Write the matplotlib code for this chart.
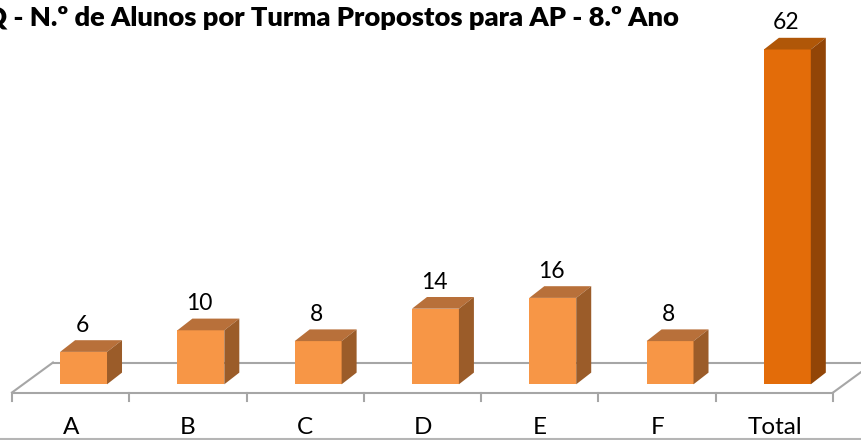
import matplotlib
matplotlib.use("Agg")
import matplotlib.pyplot as plt
from matplotlib.patches import Polygon

# ---- data ----
categories = ["A", "B", "C", "D", "E", "F", "Total"]
values = [6, 10, 8, 14, 16, 8, 62]
title = "Q - N.º de Alunos por Turma Propostos para AP - 8.º Ano"

# ---- style ----
FONT = ["Lato", "DejaVu Sans"]
front_c = "#F79646"
top_c = "#B8703A"
side_c = "#9B5C29"
tot_front = "#E36C09"
tot_top = "#B05708"
tot_side = "#924507"
grid_c = "#A6A6A6"

W, H = 862, 440
fig = plt.figure(figsize=(W / 100, H / 100), dpi=100)
ax = fig.add_axes([0, 0, 1, 1])
ax.axis("off")

# pixel geometry -> data scale
PX_PER_CAT = 117.3
PX_PER_VAL = 5.4
x_left_px = 12.0
y_zero_px = 384.3
ax.set_xlim(-0.5 - x_left_px / PX_PER_CAT, -0.5 + (W - x_left_px) / PX_PER_CAT)
ax.set_ylim((y_zero_px - H) / PX_PER_VAL, y_zero_px / PX_PER_VAL)

# bar geometry (data units)
bar_shift = 0.11
bar_w = 0.40
ddx = 15.0 / PX_PER_CAT
ddy = 11.7 / PX_PER_VAL

# floor geometry
n = len(categories)
floor_front = -8.2 / PX_PER_VAL
fdx = 41.0 / PX_PER_CAT
fdy = 30.0 / PX_PER_VAL
tick_len = 8.5 / PX_PER_VAL

lw = 1.5
# floor outline
ax.plot([-0.5, n - 0.5], [floor_front, floor_front], color=grid_c, lw=lw, zorder=1, solid_capstyle="butt")
ax.plot([-0.5, -0.5 + fdx], [floor_front, floor_front + fdy], color=grid_c, lw=lw, zorder=1)
ax.plot([-0.5 + fdx, n - 0.5 + fdx], [floor_front + fdy] * 2, color=grid_c, lw=lw, zorder=1)
ax.plot([n - 0.5, n - 0.5 + fdx], [floor_front, floor_front + fdy], color=grid_c, lw=lw, zorder=1)
for i in range(n + 1):
    ax.plot([i - 0.5, i - 0.5], [floor_front, floor_front - tick_len], color=grid_c, lw=lw, zorder=1)

# bars
xs = [i + bar_shift for i in range(n)]
for i, (x, v) in enumerate(zip(xs, values)):
    is_total = categories[i] == "Total"
    fc = tot_front if is_total else front_c
    tc = tot_top if is_total else top_c
    sc = tot_side if is_total else side_c
    x0, x1 = x - bar_w / 2, x + bar_w / 2
    ax.bar(x, v, width=bar_w, bottom=0, color=fc, edgecolor="none", zorder=3)
    ax.add_patch(Polygon([(x0, v), (x1, v), (x1 + ddx, v + ddy), (x0 + ddx, v + ddy)],
                         closed=True, facecolor=tc, edgecolor="none", zorder=3))
    ax.add_patch(Polygon([(x1, 0), (x1, v), (x1 + ddx, v + ddy), (x1 + ddx, ddy)],
                         closed=True, facecolor=sc, edgecolor="none", zorder=3))
    ax.text(x - 0.01, v + ddy + 8.4 / PX_PER_VAL, f"{v}", ha="center", va="baseline",
            fontsize=16.5, family=FONT, color="black", zorder=4)

# category labels
for i, c in enumerate(categories):
    ax.text(i, (y_zero_px - 433.5) / PX_PER_VAL, c, ha="center", va="baseline",
            fontsize=17.5, family=FONT, color="black")

# bottom border line
ax.axhline((y_zero_px - 438.5) / PX_PER_VAL, color="#B5B5B5", lw=1.5, zorder=1)

# title
fig.text(679 / W, (H - 25.5) / H, title, ha="right", va="baseline",
         fontsize=19.6, fontweight="heavy", family=FONT, color="black")

fig.savefig("out.png", dpi=100)
